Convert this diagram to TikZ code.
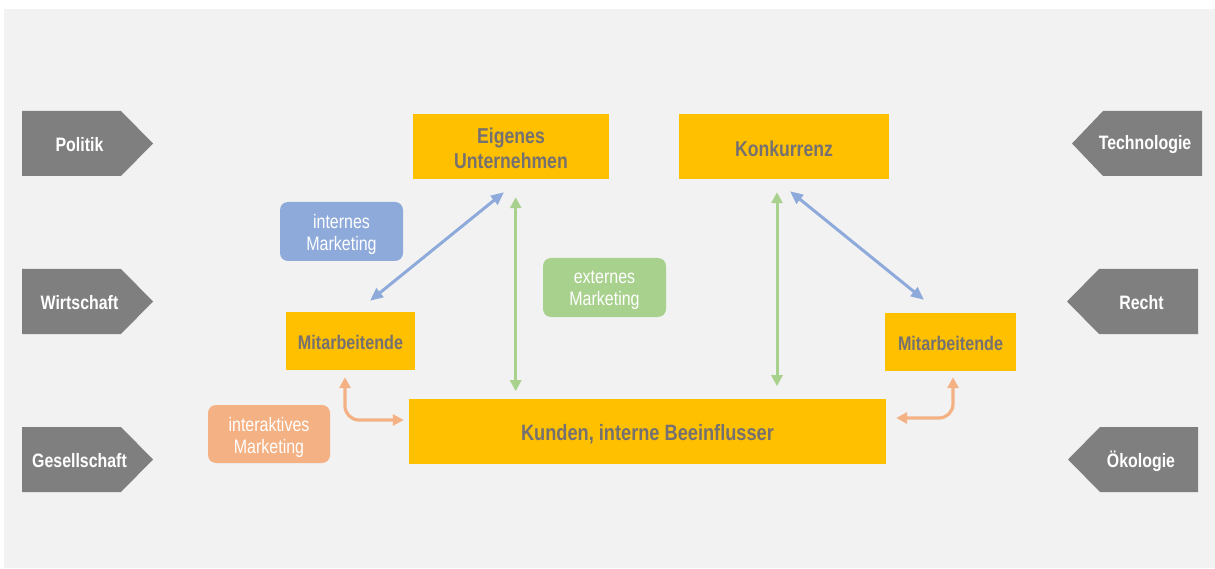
\documentclass[tikz,border=0pt]{standalone}
\usepackage{fontspec}
\setmainfont{Liberation Sans}
\newfontfamily\narrowfont[FakeStretch=0.82]{Liberation Sans}
\usetikzlibrary{arrows.meta}
\definecolor{bggray}{HTML}{F2F2F2}
\definecolor{pgray}{HTML}{7F7F7F}
\definecolor{gold}{HTML}{FFC000}
\definecolor{boxtext}{HTML}{767171}
\definecolor{mblue}{HTML}{8EAADB}
\definecolor{mgreen}{HTML}{A9D18E}
\definecolor{morange}{HTML}{F4B183}
% move a line of text down without changing the box it occupies
\newcommand\lowerby[2]{\raisebox{-#1}[\height][\depth]{#2}}
\tikzset{
  ybox/.style={fill=gold, text=boxtext, inner sep=0pt, align=center,
    font=\narrowfont\bfseries\fontsize{21.5}{25}\selectfont},
  mbox/.style={fill=gold, text=boxtext, inner sep=0pt, align=center,
    font=\narrowfont\bfseries\fontsize{19.7}{22}\selectfont},
  tag/.style={rounded corners=8pt, text=white, inner sep=0pt, align=center,
    font=\narrowfont\fontsize{19.5}{22}\selectfont},
  plabel/.style={text=white, inner sep=0pt,
    font=\narrowfont\bfseries\fontsize{19.4}{22}\selectfont},
  barr/.style={draw=mblue, line width=3pt, {Triangle[length=13pt,width=11pt]}-{Triangle[length=13pt,width=11pt]}},
  garr/.style={draw=mgreen, line width=3pt, {Triangle[length=11pt,width=11pt]}-{Triangle[length=11pt,width=11pt]}},
  oarr/.style={draw=morange, line width=3.2pt, rounded corners=14pt,
    {Triangle[length=11pt,width=11pt]}-{Triangle[length=11pt,width=11pt]}},
}
\begin{document}
\begin{tikzpicture}[x=1pt,y=-1pt]
\useasboundingbox (0,0) rectangle (1215,569);
\fill[bggray] (4,9) rectangle (1215,568);

% environment factors, left side (pointing right)
\foreach \y/\name/\txt in {143.5/politik/Politik, 301.5/wirtschaft/Wirtschaft, 459.5/gesellschaft/Gesellschaft}{
  \fill[pgray] (22,\y-32.5) -- (121,\y-32.5) -- (153,\y) -- (121,\y+32.5) -- (22,\y+32.5) -- cycle;
  \node[plabel] (\name) at (79.5,\y) {\lowerby{1.5pt}{\txt}};
}
% environment factors, right side (pointing left)
\fill[pgray] (1202,111) -- (1103,111) -- (1072,143.5) -- (1103,176) -- (1202,176) -- cycle;
\node[plabel] (technologie) at (1145,143.5) {\lowerby{1.5pt}{Technologie}};
\fill[pgray] (1198,269) -- (1099,269) -- (1067,301.5) -- (1099,334) -- (1198,334) -- cycle;
\node[plabel] (recht) at (1141.5,301.5) {\lowerby{1.5pt}{Recht}};
\fill[pgray] (1198,427) -- (1100,427) -- (1068,459.5) -- (1100,492) -- (1198,492) -- cycle;
\node[plabel] (oekologie) at (1141,459.5) {\lowerby{1.5pt}{Ökologie}};

% market participants
\node[ybox, minimum width=196pt, minimum height=65pt] (eigen) at (511,146.5)
  {\lowerby{2pt}{Eigenes}\\\lowerby{2pt}{Unternehmen}};
\node[ybox, minimum width=210pt, minimum height=65pt] (konk) at (784,146.5) {\lowerby{2pt}{Konkurrenz}};
\node[mbox, minimum width=129pt, minimum height=58pt] (mitL) at (350.5,341) {\lowerby{1.5pt}{Mitarbeitende}};
\node[mbox, minimum width=131pt, minimum height=58pt] (mitR) at (950.5,342) {\lowerby{1.5pt}{Mitarbeitende}};
\node[ybox, font=\narrowfont\bfseries\fontsize{22.2}{25}\selectfont, minimum width=477pt, minimum height=65pt] (kunden) at (647.5,431.5)
  {\lowerby{2.5pt}{Kunden, interne Beeinflusser}};

% marketing tags
\node[tag, fill=mblue, minimum width=123pt, minimum height=59pt] (intM) at (341.5,231.5)
  {\lowerby{3pt}{internes}\\\lowerby{3pt}{Marketing}};
\node[tag, fill=mgreen, minimum width=123pt, minimum height=59pt] (extM) at (604.5,287.5)
  {\lowerby{3pt}{externes}\\\lowerby{3pt}{Marketing}};
\node[tag, fill=morange, minimum width=122pt, minimum height=58pt] (iaM) at (269,434)
  {\lowerby{3pt}{interaktives}\\\lowerby{3pt}{Marketing}};

% internal marketing
\draw[barr] ([xshift=-7pt,yshift=-13pt]eigen.south) -- ([xshift=19.5pt,yshift=11pt]mitL.north);
\draw[barr] ([xshift=6pt,yshift=-12pt]konk.south) -- ([xshift=-26.5pt,yshift=13pt]mitR.north);
% external marketing
\draw[garr] ([xshift=4.7pt,yshift=-18pt]eigen.south) -- ++(0,194);
\draw[garr] ([xshift=-7pt,yshift=-13pt]konk.south) -- ++(0,194);
% interactive marketing
\draw[oarr] ([xshift=-5.5pt,yshift=-7pt]mitL.south) |- ([xshift=-5pt,yshift=11.5pt]kunden.west);
\draw[oarr] ([xshift=2.5pt,yshift=-6pt]mitR.south) |- ([xshift=10pt,yshift=13.5pt]kunden.east);
\end{tikzpicture}
\end{document}
